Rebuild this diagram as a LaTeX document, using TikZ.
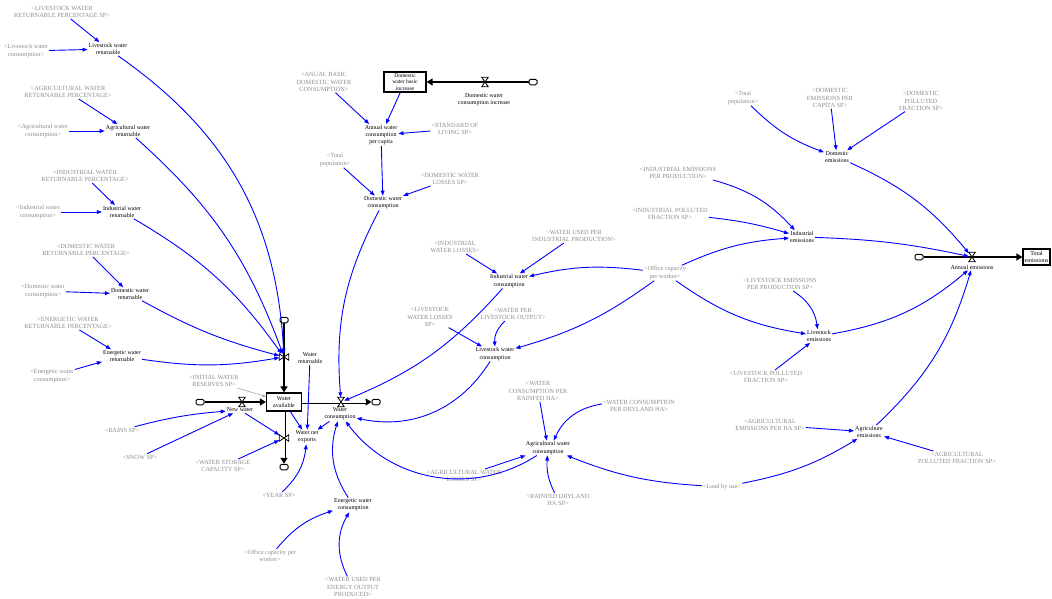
\documentclass[tikz,border=0pt]{standalone}
\usepackage{fontspec}
\setmainfont{Liberation Serif}
\usetikzlibrary{arrows.meta}
\newcommand\vfont{\fontsize{6}{7.1}\selectfont}
\newcommand\sfont{\fontsize{6.3}{7.3}\selectfont}
% hourglass valves on horizontal and vertical pipes
\newcommand\valveH[1]{\draw[valveline] (#1.north west) -- (#1.north east) -- (#1.south west) -- (#1.south east) -- cycle;}
\newcommand\valveV[1]{\draw[valveline] (#1.north west) -- (#1.south west) -- (#1.north east) -- (#1.south east) -- cycle;}
\tikzset{
  var/.style={inner sep=1pt, align=center, font=\vfont, text=black},
  shadow/.style={inner sep=1pt, align=center, font=\sfont, text=black!45},
  stock/.style={draw=black, line width=1.2pt, fill=white, inner sep=0pt, align=center, font=\vfont},
  cloud/.style={draw=black, line width=1pt, rounded corners=1.5pt, fill=white, minimum width=8pt, minimum height=5.5pt, inner sep=0pt},
  hvalve/.style={inner sep=0pt, minimum width=6pt, minimum height=9pt},
  vvalve/.style={inner sep=0pt, minimum width=9pt, minimum height=6pt},
  valveline/.style={draw=black, line width=0.8pt, fill=white, line join=miter},
  pipe/.style={draw=black, line width=2.2pt},
  twinout/.style={draw=black, line width=3pt},
  twinin/.style={draw=white, line width=1.1pt},
  pipetip/.style={-{Triangle[length=6pt,width=7pt]}},
  link/.style={draw=blue, line width=0.9pt, -{Triangle[length=5pt,width=3.8pt]}},
  ghost/.style={draw=black!35, line width=0.6pt, -{Triangle[length=3pt,width=2.5pt]}},
}
\begin{document}
\begin{tikzpicture}[x=1pt,y=-1pt]
\useasboundingbox (0,0) rectangle (1052,598);

% ---- returnable water (left column)
\node[shadow] (LWRP) at (62,12) {<LIVESTOCK WATER\\RETURNABLE PERCENTAGE SP>};
\node[shadow] (LWCs) at (26,51) {<Livestock water\\consumption>};
\node[var] (LWR) at (108,49) {Livestock water\\returnable};
\node[shadow] (AWRP) at (68,92) {<AGRICULTURAL WATER\\RETURNABLE PERCENTAGE>};
\node[shadow] (AWCs) at (43,131) {<Agricultural water\\consumption>};
\node[var] (AWR) at (128,131) {Agricultural water\\returnable};
\node[shadow] (IWRP) at (85,176) {<INDUSTRIAL WATER\\RETURNABLE PERCENTAGE>};
\node[shadow] (IWCs) at (38,212) {<Industrial water\\consumption>};
\node[var] (IWR) at (122,212) {Industrial water\\returnable};
\node[shadow] (DWRP) at (86,250) {<DOMESTIC WATER\\RETURNABLE PERCENTAGE>};
\node[shadow] (DWCs) at (43,291) {<Domestic water\\consumption>};
\node[var] (DWR) at (130,294) {Domestic water\\returnable};
\node[shadow] (EWRP) at (68,323) {<ENERGETIC WATER\\RETURNABLE PERCENTAGE>};
\node[var] (EWR) at (122,356) {Energetic water\\returnable};
\node[shadow] (EWCs) at (52,376) {<Energetic water\\consumption>};
\node[shadow] (IWRS) at (214,381) {<INITIAL WATER\\RESERVES SP>};

% ---- water stock and its flows
\node[stock, minimum width=35pt, minimum height=18pt] (WA) at (284,402) {Water\\available};
\node[cloud] (C2) at (284,320) {};
\node[cloud] (C3) at (284,467) {};
\node[cloud] (C4) at (200,402) {};
\node[cloud] (C5) at (376,402) {};
\node[var] (WR) at (310,358) {Water\\returnable};
\node[var] (WNE) at (307,437) {Water net\\exports};
\node[var] (NW) at (240,410) {New water};
\node[var] (WC) at (340,414) {Water\\consumption};
\node[shadow] (RSP) at (122,430) {<RAINS SP>};
\node[shadow] (SSP) at (140,457) {<SNOW SP>};
\node[shadow] (WSCSP) at (223,466) {<WATER STORAGE\\CAPACITY SP>};
\node[shadow] (YSP) at (279,495) {<YEAR SP>};
\node[var] (EWC) at (353,505) {Energetic water\\consumption};
\node[shadow] (OCPW1) at (270,556) {<Office capacity per\\worker>};
\node[shadow] (WUPEOP) at (353,587) {<WATER USED PER\\ENERGY OUTPUT\\PRODUCED>};

% ---- domestic water
\node[shadow] (ABDWC) at (324,82) {<ANUAL BASIC\\DOMESTIC WATER\\CONSUMPTION>};
\node[stock, minimum width=42pt, minimum height=20pt, font=\fontsize{5.6}{6.4}\selectfont] (DWBI) at (405,82) {Domestic\\water basic\\increase};
\node[cloud] (C1) at (533,82) {};
\node[var] (DWCI) at (484,100) {Domestic water\\consumption increase};
\node[var] (AWCPC) at (381,135) {Annual water\\consumption\\per capita};
\node[shadow] (SLSP) at (455,129) {<STANDARD OF\\LIVING SP>};
\node[shadow] (TP1) at (335,160) {<Total\\population>};
\node[shadow] (DWLSP) at (450,179) {<DOMESTIC WATER\\LOSSES SP>};
\node[var] (DWC) at (383,203) {Domestic water\\consumption};

% ---- industrial, livestock and agricultural water
\node[shadow] (IWL) at (455,247) {<INDUSTRIAL\\WATER LOSSES>};
\node[var] (IWC) at (509,281) {Industrial water\\consumption};
\node[shadow] (WUPIP) at (574,236) {<WATER USED PER\\INDUSTRIAL PRODUCTION>};
\node[shadow] (LWL) at (430,317) {<LIVESTOCK\\WATER LOSSES\\SP>};
\node[shadow] (WPLO) at (513,314) {<WATER PER\\LIVESTOCK OUTPUT>};
\node[var] (LWC) at (495,354) {Livestock water\\consumption};
\node[shadow] (WCPRH) at (538,391) {<WATER\\CONSUMPTION PER\\RAINFED HA>};
\node[shadow] (WCPDH) at (639,406) {<WATER CONSUMPTION\\PER DRYLAND HA>};
\node[var] (AWC) at (548,448) {Agricultural water\\consumption};
\node[shadow] (AWLSP) at (464,476) {<AGRICULTURAL WATER\\LOSSES SP>};
\node[shadow] (RDHSP) at (558,500) {<RAINFED DRYLAND\\HA SP>};
\node[shadow] (LBU) at (722,487) {<Land by use>};
\node[shadow] (OCPW2) at (665,273) {<Office capacity\\per worker>};

% ---- emissions
\node[shadow] (TP2) at (743,98) {<Total\\population>};
\node[shadow] (DEPCSP) at (830,98) {<DOMESTIC\\EMISSIONS PER\\CAPITA SP>};
\node[shadow] (DPFSP) at (921,101) {<DOMESTIC\\POLLUTED\\FRACTION SP>};
\node[var] (DE) at (837,157) {Domestic\\emissions};
\node[shadow] (IEPP) at (678,173) {<INDUSTRIAL EMISSIONS\\PER PRODUCTION>};
\node[shadow] (IPFSP) at (670,214) {<INDUSTRIAL POLLUTED\\FRACTION SP>};
\node[var] (IE) at (802,237) {Industrial\\emissions};
\node[shadow] (LEPP) at (780,284) {<LIVESTOCK EMISSIONS\\PER PRODUCTION SP>};
\node[var] (LE) at (819,336) {Livestock\\emissions};
\node[shadow] (LPFSP) at (766,377) {<LIVESTOCK POLLUTED\\FRACTION SP>};
\node[cloud] (C6) at (919,257) {};
\node[var] (AE) at (972,267) {Annual emissions};
\node[stock, minimum width=27pt, minimum height=16pt] (TE) at (1036.5,257) {Total\\emissions};
\node[shadow] (AEPHSP) at (770,425) {<AGRICULTURAL\\EMISSIONS PER HA SP>};
\node[var] (AgE) at (869,432) {Agriculture\\emissions};
\node[shadow] (APFSP) at (957,458) {<AGRICULTURAL\\POLLUTED FRACTION SP>};

% ---- pipes (outflows of the water stock are drawn as hollow pipes)
\draw[pipe,pipetip] (C1) -- (DWBI);
\draw[pipe,pipetip] (C2) -- (WA);
\draw[twinout,pipetip] (WA) -- (C3);
\draw[twinin,shorten >=6pt] (WA) -- (C3);
\draw[pipe,pipetip] (C4) -- (WA);
\draw[twinout,pipetip] (WA) -- (C5);
\draw[twinin,shorten >=6pt] (WA) -- (C5);
\draw[pipe,pipetip] (C6) -- (TE);

% ---- valves
\node[hvalve] (V1) at (485,82) {};
\node[vvalve] (V2) at (284,357) {};
\node[vvalve] (V3) at (284,438) {};
\node[hvalve] (V4) at (242,402) {};
\node[hvalve] (V5) at (341,402) {};
\node[hvalve] (V6) at (972,257) {};
\valveH{V1} \valveV{V2} \valveV{V3} \valveH{V4} \valveH{V5} \valveH{V6}

% ---- links: returnable water
\draw[link] (LWRP) -- (LWR);
\draw[link] (LWCs) -- (LWR);
\draw[link] (LWR) to[bend left=26] (V2);
\draw[link] (AWRP) -- (AWR);
\draw[link] (AWCs) -- (AWR);
\draw[link] (AWR) to[bend left=14] (V2);
\draw[link] (IWRP) -- (IWR);
\draw[link] (IWCs) -- (IWR);
\draw[link] (IWR) to[bend left=12] (V2);
\draw[link] (DWRP) -- (DWR);
\draw[link] (DWCs) -- (DWR);
\draw[link] (DWR) to[bend right=7] (V2);
\draw[link] (EWRP) -- (EWR);
\draw[link] (EWCs) -- (EWR);
\draw[link] (EWR) to[bend right=9] (V2);
\draw[ghost] (IWRS) -- (WA);

% ---- links: stock balance
\draw[link] (RSP) to[bend left=5] (NW);
\draw[link] (SSP) -- (NW);
\draw[link] (NW) -- (V3);
\draw[link] (WSCSP) -- (V3);
\draw[link] (WA) -- (WNE);
\draw[link] (WR) -- (WNE);
\draw[link] (YSP) to[bend right=20] (WNE);
\draw[link] (WC) -- (WNE);
\draw[link] (EWC) to[bend left=25] (WC);
\draw[link] (OCPW1) to[bend left=16] (EWC);
\draw[link] (WUPEOP) to[bend left=28] (EWC);
\draw[link] (DWC) to[bend right=16] (V5);
\draw[link] (IWC) to[bend left=13] (V5);
\draw[link] (LWC) to[bend left=35] (WC);
\draw[link] (AWC) to[bend left=43] (WC);

% ---- links: sector water use
\draw[link] (AWLSP) -- (AWC);
\draw[link] (OCPW2) to[bend left=10] (LWC);
\draw[link] (OCPW2) to[bend right=10] (IWC);
\draw[link] (WUPIP) -- (IWC);
\draw[link] (IWL) -- (IWC);
\draw[link] (LWL) -- (LWC);
\draw[link] (WPLO) to[bend right=25] (LWC);
\draw[link] (LBU) to[bend left=9] (AWC);
\draw[link] (WCPRH) -- (AWC);
\draw[link] (WCPDH) to[bend right=28] (AWC);
\draw[link] (RDHSP) to[bend left=15] (AWC);
\draw[link] (AWCPC) -- (DWC);
\draw[link] (TP1) -- (DWC);
\draw[link] (DWLSP) -- (DWC);
\draw[link] (ABDWC) -- (AWCPC);
\draw[link] (DWBI) -- (AWCPC);
\draw[link] (SLSP) -- (AWCPC);

% ---- links: emissions
\draw[link] (OCPW2) to[bend left=10] (IE);
\draw[link] (OCPW2) to[bend right=13] (LE);
\draw[link] (IEPP) to[bend left=16] (IE);
\draw[link] (IPFSP) to[bend left=5] (IE);
\draw[link] (TP2) to[bend right=12] (DE);
\draw[link] (DEPCSP) -- (DE);
\draw[link] (DPFSP) -- (DE);
\draw[link] (DE) to[bend left=13] (V6);
\draw[link] (IE) to[bend left=5] (V6);
\draw[link] (LE) to[bend right=15] (AE);
\draw[link] (AgE) to[bend right=15] (AE);
\draw[link] (LEPP) to[bend left=25] (LE);
\draw[link] (LPFSP) -- (LE);
\draw[link] (AEPHSP) -- (AgE);
\draw[link] (APFSP) -- (AgE);
\draw[link] (LBU) to[bend right=10] (AgE);
\end{tikzpicture}
\end{document}
